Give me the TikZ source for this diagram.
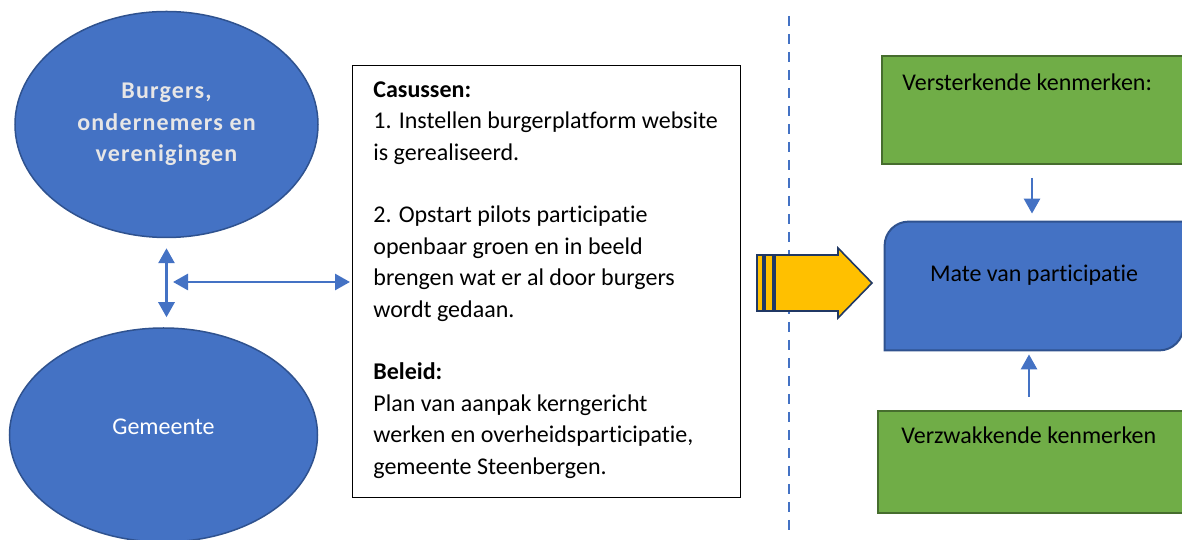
\documentclass[tikz,border=0pt]{standalone}
\usepackage{fontspec}
\setmainfont{Carlito}[Ligatures=NoCommon]
\newfontfamily\spacedfont{Carlito}[LetterSpace=5, Ligatures=NoCommon]
\usetikzlibrary{shapes.geometric,arrows.meta,calc,backgrounds}
\definecolor{accblue}{HTML}{4472C4}
\definecolor{blueline}{HTML}{2F528F}
\definecolor{greenfill}{HTML}{70AD47}
\definecolor{greenline}{HTML}{466D2E}
\definecolor{gold}{HTML}{FFC000}
\definecolor{navy}{HTML}{203864}
\definecolor{paletext}{HTML}{E7E6E6}
\tikzset{
  every node/.style={font=\fontsize{12}{15.7}\selectfont},
  actor/.style={ellipse, draw=blueline, line width=0.75pt, fill=accblue, inner sep=0pt},
  greenbox/.style={rectangle, draw=greenline, line width=1pt, fill=greenfill, inner sep=0pt},
  boxtext/.style={inner sep=0pt, anchor=base west},
  flow/.style={draw=accblue, line width=1.4pt, -{Triangle[length=7.5pt,width=8pt]}},
  twoway/.style={flow, {Triangle[length=7.5pt,width=8pt]}-{Triangle[length=7.5pt,width=8pt]}},
  goldarrow/.style={fill=gold, draw=navy, line width=0.8pt},
  divider/.style={draw=accblue, line width=1.4pt, dash pattern=on 5pt off 4pt},
}
\begin{document}
\begin{tikzpicture}[x=0.5pt,y=0.5pt]
  \useasboundingbox (0,0) rectangle (1182,540);
  % left: actors
  \node[actor, minimum width=151.5pt, minimum height=113pt, align=center, text=paletext,
        font=\spacedfont\bfseries\fontsize{12}{15.7}\selectfont]
        (burgers) at (166.5,415.5) {Burgers,\\ondernemers en\\verenigingen};
  \node[actor, minimum width=154pt, minimum height=107pt, text=white,
        text height=8pt, text depth=8pt] (gemeente) at (163.5,105) {Gemeente};
  \draw[twoway, shorten <=5pt, shorten >=5pt] (burgers.south) -- (burgers.south |- gemeente.north);
  % casussen
  \node[draw, line width=0.6pt, inner sep=0pt, anchor=north west,
        minimum width=194pt, minimum height=216pt] (casus) at (352,475) {};
  \node[inner sep=0pt, anchor=north west, align=left] (casustxt)
        at ([xshift=10.5pt,yshift=-6pt]casus.north west)
        {\rule{0pt}{10pt}\textbf{Casussen:}\\
         1. Instellen burgerplatform website\\
         is gerealiseerd.\\[15.7pt]
         2. Opstart pilots participatie\\
         openbaar groen en in beeld\\
         brengen wat er al door burgers\\
         wordt gedaan.\\[15.7pt]
         \textbf{Beleid:}\\
         Plan van aanpak kerngericht\\
         werken en overheidsparticipatie,\\
         gemeente Steenbergen.};
  \coordinate (hub) at (173,258);
  \draw[twoway, shorten >=1pt] (hub) -- (hub -| casus.west);
  % divider
  \draw[divider] (789,524) -- (789,8);
  % striped arrow
  \draw[goldarrow] (757,285) rectangle (763,229);
  \draw[goldarrow] (765,285) rectangle (773,229);
  \draw[goldarrow] (775,285) -- (838,285) -- (838,292) -- (872,257)
        -- (838,222) -- (838,229) -- (775,229) -- cycle;
  % right column
  \node[greenbox, minimum width=154pt, minimum height=54pt] (vers) at (1036,430) {};
  \node[boxtext] (verstxt) at ([xshift=10.5pt,yshift=-18pt]vers.north west) {Versterkende kenmerken:};
  \node[inner sep=0pt, minimum width=149pt, minimum height=64pt,
        text height=8pt, text depth=12pt] (mate) at (1034,254) {Mate van participatie};
  \begin{scope}[on background layer]
    \draw[fill=accblue, draw=blueline, line width=1pt]
      (mate.north east) -- ([xshift=12pt]mate.north west)
      arc[start angle=90, end angle=180, radius=12pt]
      -- (mate.south west) -- ([xshift=-12pt]mate.south east)
      arc[start angle=270, end angle=360, radius=12pt] -- cycle;
  \end{scope}
  \node[greenbox, minimum width=156pt, minimum height=51pt] (verz) at (1034,78) {};
  \node[boxtext] (verztxt) at ([xshift=12pt,yshift=-17pt]verz.north west) {Verzwakkende kenmerken};
  \draw[flow, shorten <=6.5pt, shorten >=4pt] ($(vers.south)+(-4,0)$) -- ($(vers.south |- mate.north)+(-4,0)$);
  \draw[flow, shorten <=6.5pt, shorten >=2pt] ($(verz.north)+(-5,0)$) -- ($(verz.north |- mate.south)+(-5,0)$);
\end{tikzpicture}
\end{document}
